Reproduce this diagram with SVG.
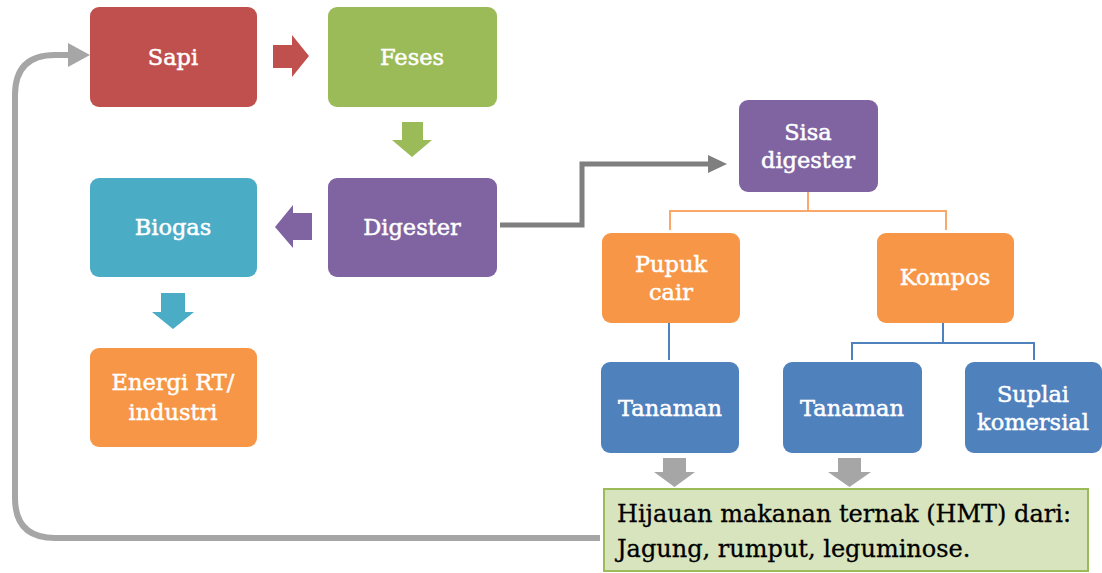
<svg xmlns="http://www.w3.org/2000/svg" width="1102" height="573" viewBox="0 0 1102 573">
<style>
.t{font-family:"DejaVu Serif","Liberation Serif",serif;font-size:22.5px;fill:#fff;stroke:#fff;stroke-width:0.5;text-anchor:middle}
.h{font-family:"DejaVu Serif","Liberation Serif",serif;font-size:24px;fill:#000;stroke:#000;stroke-width:0.3}
.red{fill:#c0504d}.grn{fill:#9bbb59}.cyan{fill:#4bacc6}.pur{fill:#8064a2}.org{fill:#f79646}.blu{fill:#4f81bd}
</style>
<g id="connectors">
<path d="M600,538H55Q15,538 15,498V95Q15,55 55,55H72" fill="none" stroke="#a6a6a6" stroke-width="6"/>
<path d="M68,43L90,55L68,67z" fill="#a6a6a6"/>
<path d="M500,225H582V164H712" fill="none" stroke="#7f7f7f" stroke-width="5"/>
<path d="M708,155L727,164L708,173z" fill="#7f7f7f"/>
<path d="M808,192V211M670,230V211H946V230" fill="none" stroke="#f9a86a" stroke-width="2"/>
<path d="M669,323V360M943,323V343M852,360V343H1034V360" fill="none" stroke="#4f81bd" stroke-width="2"/>
<path class="red" d="M273,45H292V35L309,56L292,77V68H273z"/>
<path class="grn" d="M402,122H423V140H432L412,157L392,140H402z"/>
<path class="pur" d="M312,213H293V205L275,227L293,248V240H312z"/>
<path class="cyan" d="M161,293H185V312H194L173,329L152,312H161z"/>
<path fill="#a6a6a6" d="M663,458H686V472H695L674.5,487L654,472H663z"/>
<path fill="#a6a6a6" d="M838,458H861V472H871L849.5,487L828,472H838z"/>
</g>
<g id="sapi"><rect class="red" x="90" y="7" width="167" height="100" rx="9"/><text class="t" x="173" y="65">Sapi</text></g>
<g id="feses"><rect class="grn" x="328" y="7" width="169" height="100" rx="9"/><text class="t" x="412" y="65">Feses</text></g>
<g id="biogas"><rect class="cyan" x="90" y="178" width="167" height="99" rx="9"/><text class="t" x="173" y="235">Biogas</text></g>
<g id="digester"><rect class="pur" x="328" y="178" width="169" height="99" rx="9"/><text class="t" x="412" y="235">Digester</text></g>
<g id="energi"><rect class="org" x="90" y="348" width="167" height="99" rx="9"/><text class="t" x="173" y="390">Energi RT/</text><text class="t" x="173" y="420">industri</text></g>
<g id="sisa"><rect class="pur" x="739" y="100" width="139" height="92" rx="9"/><text class="t" x="808" y="140">Sisa</text><text class="t" x="808" y="168">digester</text></g>
<g id="pupuk"><rect class="org" x="602" y="233" width="138" height="90" rx="9"/><text class="t" x="671" y="272">Pupuk</text><text class="t" x="671" y="300">cair</text></g>
<g id="kompos"><rect class="org" x="877" y="233" width="137" height="90" rx="9"/><text class="t" x="945" y="285">Kompos</text></g>
<g id="tanaman1"><rect class="blu" x="601" y="362" width="138" height="91" rx="9"/><text class="t" x="670" y="416">Tanaman</text></g>
<g id="tanaman2"><rect class="blu" x="783" y="362" width="139" height="91" rx="9"/><text class="t" x="852" y="416">Tanaman</text></g>
<g id="suplai"><rect class="blu" x="965" y="362" width="137" height="91" rx="9"/><text class="t" x="1033" y="402">Suplai</text><text class="t" x="1033" y="430">komersial</text></g>
<g id="hmt"><rect x="604" y="489" width="484" height="82" fill="#d7e4bd" stroke="#9bbb59" stroke-width="2"/><text class="h" x="617" y="522">Hijauan makanan ternak (HMT) dari:</text><text class="h" x="617" y="557">Jagung, rumput, leguminose.</text></g>
</svg>
